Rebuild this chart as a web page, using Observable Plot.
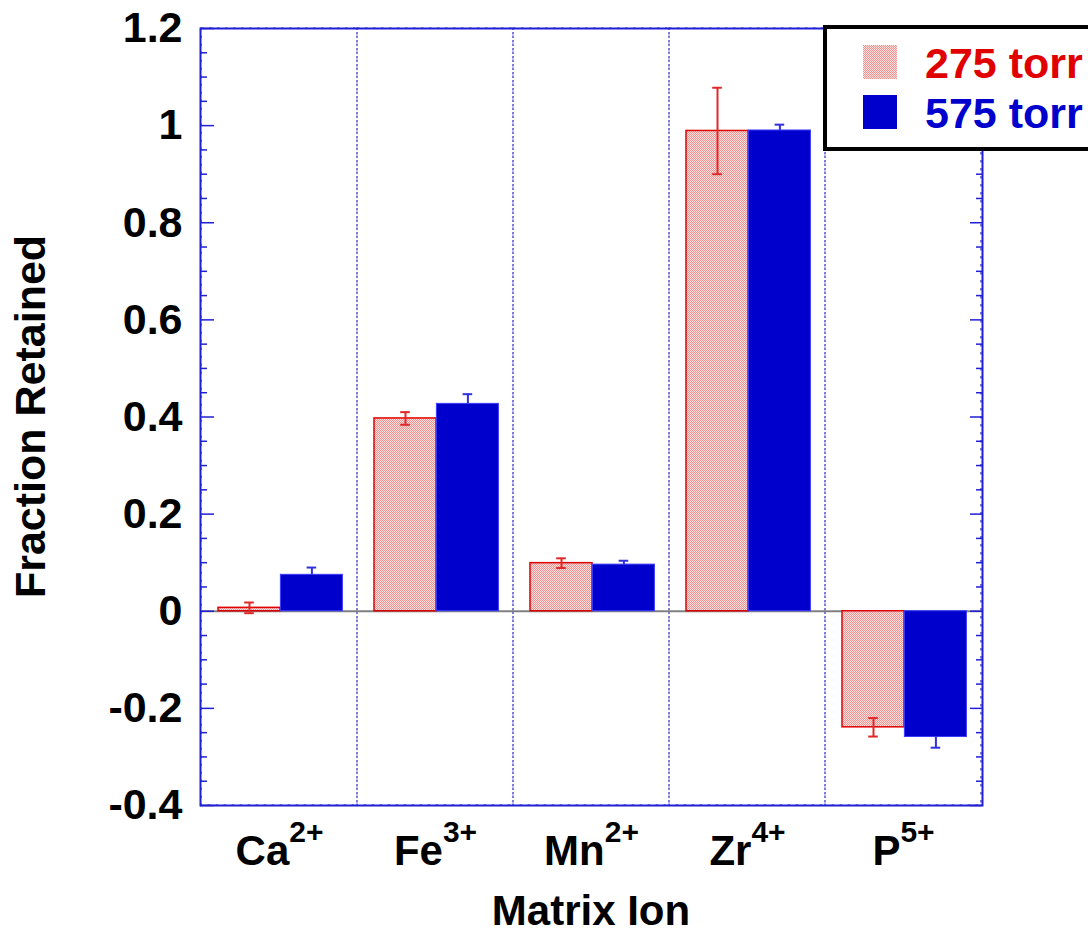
<!DOCTYPE html>
<html>
<head>
<meta charset="utf-8">
<script src="https://cdn.jsdelivr.net/npm/d3@7"></script>
<script src="https://cdn.jsdelivr.net/npm/@observablehq/plot@0.6"></script>
<style>
  html, body { margin: 0; padding: 0; background: #fff; }
  #chart { width: 1088px; height: 934px; overflow: hidden; }
  svg { display: block; }
</style>
</head>
<body>
<div id="chart"></div>
<script>
// ---- data ----
const ions = ["Ca", "Fe", "Mn", "Zr", "P"];
const charges = ["2+", "3+", "2+", "4+", "5+"];
const series = ["275 torr", "575 torr"];
const values275 = [0.007, 0.397, 0.099, 0.989, -0.239];
const errors275 = [0.011, 0.013, 0.010, 0.089, 0.019];
const values575 = [0.075, 0.427, 0.096, 0.990, -0.259];
const errors575 = [0.015, 0.020, 0.008, 0.012, 0.022];
const majorTicks = [-0.4, -0.2, 0, 0.2, 0.4, 0.6, 0.8, 1.0, 1.2];
const minorTicks = [-0.35, -0.3, -0.25, -0.15, -0.1, -0.05, 0.05, 0.1, 0.15, 0.25, 0.3, 0.35,
                    0.45, 0.5, 0.55, 0.65, 0.7, 0.75, 0.85, 0.9, 0.95, 1.05, 1.1, 1.15];
const yDomain = [-0.4, 1.2];

const red = "#e00000";
const blue = "#0000cc";
const frameBlue = "#1f1fd6";

const rows275 = ions.map((ion, i) => ({ion, value: values275[i], lo: values275[i] - errors275[i], hi: values275[i] + errors275[i]}));
const rows575 = ions.map((ion, i) => ({ion, value: values575[i], lo: values575[i] - errors575[i], hi: values575[i] + errors575[i]}));

const W = 1088, H = 934;
const mL = 200, mR = 106, mT = 28, mB = 129;
const frameW = W - mL - mR;           // 782
const bw = frameW / ions.length;      // 156.4
const pad = 17, barW = 62.4;
const cRed = pad + barW / 2;
const cBlue = pad + barW * 1.5;
const capW = 10;

const chart = Plot.plot({
  width: W,
  height: H,
  marginLeft: mL,
  marginRight: mR,
  marginTop: mT,
  marginBottom: mB,
  style: {fontFamily: "'Liberation Sans', Arial, sans-serif", color: "#000", background: "#fff"},
  x: {type: "band", domain: ions, paddingInner: 0, paddingOuter: 0, label: null},
  y: {domain: yDomain, label: null},
  marks: [
    // dotted category dividers
    Plot.barY(ions, {x: d => d, y1: () => yDomain[0], y2: () => yDomain[1], fill: "none",
      stroke: "#2a2ac8", strokeWidth: 1.2, strokeDasharray: "2.5,5.5"}),
    Plot.ruleY([0], {stroke: "#808080", strokeWidth: 2}),
    // 275 torr bars
    Plot.barY(rows275, {x: "ion", y: "value", fill: "url(#pinkcheck)", stroke: red, strokeWidth: 1.5,
      insetLeft: pad, insetRight: bw - pad - barW}),
    Plot.ruleX(rows275, {x: "ion", y1: "lo", y2: "hi", stroke: "#e02828", strokeWidth: 2, dx: cRed - bw / 2}),
    Plot.tickY(rows275, {x: "ion", y: "lo", stroke: "#e02828", strokeWidth: 2,
      insetLeft: cRed - capW / 2, insetRight: bw - cRed - capW / 2}),
    Plot.tickY(rows275, {x: "ion", y: "hi", stroke: "#e02828", strokeWidth: 2,
      insetLeft: cRed - capW / 2, insetRight: bw - cRed - capW / 2}),
    // 575 torr error bars (behind bars)
    Plot.ruleX(rows575, {x: "ion", y1: "lo", y2: "hi", stroke: "#3030e0", strokeWidth: 2, dx: cBlue - bw / 2}),
    Plot.tickY(rows575, {x: "ion", y: d => d.value < 0 ? d.lo : d.hi, stroke: "#3030e0", strokeWidth: 2,
      insetLeft: cBlue - capW / 2, insetRight: bw - cBlue - capW / 2}),
    // 575 torr bars
    Plot.barY(rows575, {x: "ion", y: "value", fill: blue, stroke: "#3a3aff", strokeWidth: 1,
      insetLeft: pad + barW, insetRight: bw - pad - 2 * barW}),
    // inward tick marks, left and right
    Plot.tickY(majorTicks, {y: d => d, stroke: frameBlue, strokeWidth: 1.5, insetRight: frameW - 14}),
    Plot.tickY(minorTicks, {y: d => d, stroke: frameBlue, strokeWidth: 1.5, insetRight: frameW - 7}),
    Plot.tickY(majorTicks, {y: d => d, stroke: frameBlue, strokeWidth: 1.5, insetLeft: frameW - 12}),
    Plot.tickY(minorTicks, {y: d => d, stroke: frameBlue, strokeWidth: 1.5, insetLeft: frameW - 6}),
    Plot.axisY({ticks: majorTicks, tickSize: 0, tickPadding: 18, fontSize: 43, fontWeight: "bold",
      tickFormat: d => String(+d.toFixed(1)), label: null}),
    Plot.axisX({tickSize: 0, tickPadding: 30, fontSize: 42, fontWeight: "bold", label: null}),
    Plot.frame({stroke: frameBlue, strokeWidth: 2})
  ]
});

const svg = d3.select(chart);
// pattern for the 275 torr bars
const defs = svg.insert("defs", ":first-child");
const pat = defs.append("pattern").attr("id", "pinkcheck").attr("patternUnits", "userSpaceOnUse")
  .attr("width", 2).attr("height", 2);
pat.append("rect").attr("width", 2).attr("height", 2).attr("fill", "#fde2e2");
pat.append("rect").attr("width", 1).attr("height", 1).attr("fill", "#f29090");
pat.append("rect").attr("x", 1).attr("y", 1).attr("width", 1).attr("height", 1).attr("fill", "#f29090");

// superscript charges on the x tick labels
svg.selectAll("g[aria-label='x-axis tick label'] text").each(function() {
  const t = d3.select(this);
  const name = t.text();
  const i = ions.indexOf(name);
  t.text(null);
  t.append("tspan").text(name);
  t.append("tspan").attr("dy", -23).attr("font-size", 30).text(charges[i]);
});

// axis titles
svg.append("text").attr("x", mL + frameW / 2).attr("y", 925).attr("text-anchor", "middle")
  .attr("font-size", 42).attr("font-weight", "bold").attr("fill", "#000").text("Matrix Ion");
svg.append("text").attr("transform", `translate(45,${mT + (H - mT - mB) / 2}) rotate(-90)`)
  .attr("text-anchor", "middle").attr("font-size", 43).attr("font-weight", "bold").attr("fill", "#000")
  .text("Fraction Retained");

// legend
const lg = svg.append("g").attr("font-size", 43).attr("font-weight", "bold").attr("text-anchor", "start");
lg.append("rect").attr("x", 825).attr("y", 27).attr("width", 320).attr("height", 122)
  .attr("fill", "#fff").attr("stroke", "#000").attr("stroke-width", 4);
lg.append("rect").attr("x", 863).attr("y", 45).attr("width", 34).attr("height", 34).attr("fill", "url(#pinkcheck)");
lg.append("rect").attr("x", 863).attr("y", 95).attr("width", 34).attr("height", 34).attr("fill", blue);
lg.append("text").attr("x", 925).attr("y", 78).attr("text-anchor", "start").attr("fill", red).text(series[0]);
lg.append("text").attr("x", 925).attr("y", 128).attr("text-anchor", "start").attr("fill", blue).text(series[1]);

document.getElementById("chart").appendChild(chart);
</script>
</body>
</html>
